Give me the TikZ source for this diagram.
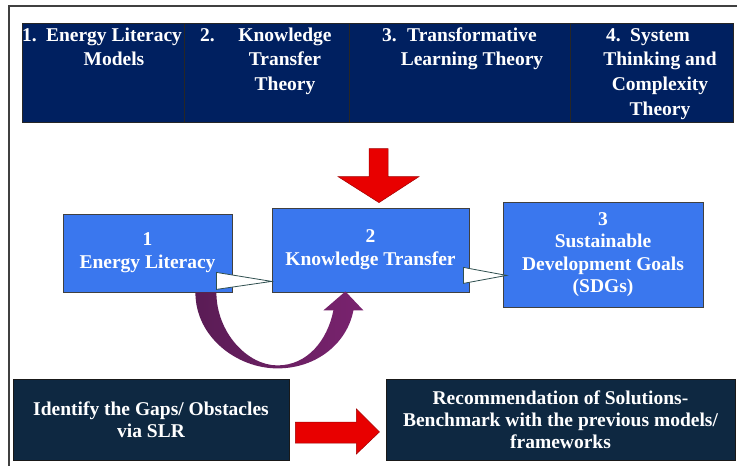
\documentclass[tikz,border=0pt]{standalone}
\usepackage{fontspec}
\setmainfont{Liberation Serif}
\usetikzlibrary{calc}
\definecolor{navy}{HTML}{002060}
\definecolor{midblue}{HTML}{3A77EE}
\definecolor{darkbox}{HTML}{0E2841}
\definecolor{arrowred}{HTML}{E80000}
\definecolor{arrowredline}{HTML}{A00000}
\definecolor{purpleL}{HTML}{5A1C55}
\definecolor{purpleR}{HTML}{7A236F}
\definecolor{wedgeline}{HTML}{2F4F4F}
\begin{document}
\begin{tikzpicture}[x=1pt,y=-1pt,
  hdr/.style={draw=black!85, line width=0.9pt, fill=navy, inner sep=0pt},
  hdrtext/.style={text=white, font=\fontsize{19.5}{24.7}\selectfont\bfseries, align=center, anchor=base, inner sep=0pt},
  hdrnum/.style={text=white, font=\fontsize{19.5}{24.7}\selectfont\bfseries, anchor=base west, inner sep=0pt},
  midbox/.style={draw=black!75, line width=0.8pt, fill=midblue, text=white, align=center, inner sep=0pt, font=\fontsize{19.5}{23}\selectfont\bfseries},
  lowbox/.style={draw=black!90, line width=0.8pt, fill=darkbox, text=white, align=center, inner sep=0pt, font=\fontsize{19.5}{22}\selectfont\bfseries},
  wedge/.style={fill=white, draw=wedgeline, line width=0.8pt, line join=miter},
  redarrow/.style={fill=arrowred, draw=arrowredline, line width=0.5pt},
  purplearrow/.style={left color=purpleL, right color=purpleR}
]
\useasboundingbox (0,0) rectangle (737,466);
% outer frame
\draw[black!75, line width=1.2pt] (9,466) -- (9,6) -- (737,6);

% header table
\node[hdr, minimum width=162pt, minimum height=99pt] (h1) at (103,72.5) {};
\node[hdr, minimum width=165pt, minimum height=99pt] (h2) at (266.5,72.5) {};
\node[hdr, minimum width=221pt, minimum height=99pt] (h3) at (459.5,72.5) {};
\node[hdr, minimum width=163pt, minimum height=99pt] (h4) at (651.5,72.5) {};

% header texts (base anchor = baseline of last line)
\node[hdrnum] (n1) at (22,41) {1.};
\node[hdrtext] (t1) at (114,65.7) {Energy Literacy\\Models};
\node[hdrnum] (n2) at (200,41) {2.};
\node[hdrtext] (t2) at (285,90.4) {Knowledge\\Transfer\\Theory};
\node[hdrnum] (n3) at (382,41) {3.};
\node[hdrtext] (t3) at (472,65.7) {Transformative\\Learning Theory};
\node[hdrnum] (n4) at (606,41) {4.};
\node[hdrtext] (t4) at (660,115.1) {System\\Thinking and\\Complexity\\Theory};

% middle boxes
\node[midbox, minimum width=169pt, minimum height=78pt] (b1) at (147.5,253) {1\\Energy Literacy};
\node[midbox, minimum width=197pt, minimum height=84pt] (b2) at (370.5,250) {2\\Knowledge Transfer};
\node[midbox, minimum width=200pt, minimum height=105pt, font=\fontsize{19.5}{22.3}\selectfont\bfseries] (b3) at (603,254.5) {3\\Sustainable\\Development Goals\\(SDGs)};

% wedge connectors
\draw[wedge] ($(b1.south east)+(-16,-20)$) -- ($(b2.south west)+(0,-11)$) -- ($(b1.south east)+(-16,-3)$) -- cycle;
\draw[wedge] ($(b2.south east)+(-6,-25)$) -- ($(b3.south west)+(4,-32)$) -- ($(b2.south east)+(-6,-9)$) -- cycle;

% red down arrow into box 2
\begin{scope}[shift={(b2.north)}]
\coordinate (rdtip) at (8.5,-5);
\draw[redarrow] (-1.5,-59) -- (17.5,-59) -- (17.5,-31) -- (48.5,-31) -- (rdtip) -- (-32.5,-31) -- (-1.5,-31) -- cycle;
\end{scope}

% purple curved arrow from box 1 to box 2
\begin{scope}[shift={(b1.south east)}]
\path[purplearrow] (-37,0) .. controls (-37,45) and (5,76) .. (45,76)
  .. controls (85,76) and (115,50) .. (121,18) -- (131,18) -- (113,-1) -- (91,18) -- (101,18)
  .. controls (95,48) and (75,73) .. (45,73)
  .. controls (15,73) and (-16,40) .. (-16,0) -- cycle;
\end{scope}

% bottom boxes
\node[lowbox, minimum width=276pt, minimum height=81pt] (bA) at (151,419.5) {Identify the Gaps/ Obstacles\\via SLR};
\node[lowbox, minimum width=349pt, minimum height=81pt] (bB) at (560.5,419.5) {Recommendation of Solutions-\\Benchmark with the previous models/\\frameworks};

% bottom red arrow
\begin{scope}[shift={(bA.east)}]
\coordinate (rbtip) at (90,12.5);
\draw[redarrow] (6,2.5) -- (67,2.5) -- (67,-10.5) -- (rbtip) -- (67,34.5) -- (67,23.5) -- (6,23.5) -- cycle;
\end{scope}
\end{tikzpicture}
\end{document}
